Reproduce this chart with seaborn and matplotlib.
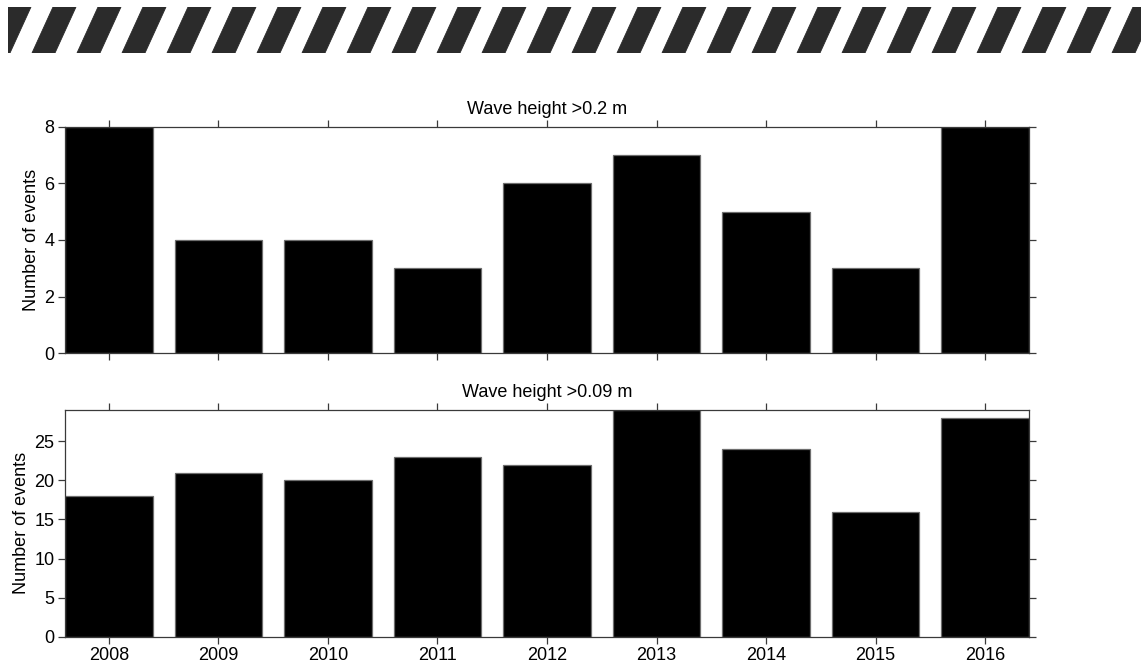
import matplotlib
matplotlib.use("Agg")
import matplotlib.pyplot as plt
from matplotlib.patches import Polygon
import seaborn as sns
import pandas as pd

years = ["2008", "2009", "2010", "2011", "2012", "2013", "2014", "2015", "2016"]
events_02 = [8, 4, 4, 3, 6, 7, 5, 3, 8]
events_009 = [18, 21, 20, 23, 22, 29, 24, 16, 28]
titles = ["Wave height >0.2 m", "Wave height >0.09 m"]
yticks_02 = [0, 2, 4, 6, 8]
yticks_009 = [0, 5, 10, 15, 20, 25]

sns.set_theme(style="white")
plt.rcParams["font.family"] = ["Liberation Sans", "DejaVu Sans"]
plt.rcParams["font.size"] = 13
plt.rcParams["text.color"] = "black"
plt.rcParams["axes.labelcolor"] = "black"

W, H = 1141, 666
fig = plt.figure(figsize=(W / 100, H / 100), dpi=100)

# decorative striped banner along the top edge
band = fig.add_axes([0, 1 - 53 / H, 1, 46 / H])
band.set_xlim(0, W)
band.set_ylim(46, 0)
band.axis("off")
period, stripe_w, slant = 45, 23, 21
x0 = 32 - period
while x0 < W + period:
    band.add_patch(Polygon([(x0, 46), (x0 + stripe_w, 46),
                            (x0 + stripe_w + slant, 0), (x0 + slant, 0)],
                           closed=True, facecolor="#2b2b2b", edgecolor="#2b2b2b",
                           linewidth=0.6, antialiased=True))
    x0 += period
band.add_patch(plt.Rectangle((0, -1), 8, 48, facecolor="white", edgecolor="none", zorder=5))

left = 65 / W
width = (1029 - 65) / W
ax_top = fig.add_axes([left, 1 - 353.3 / H, width, (353.3 - 126.7) / H])
ax_bot = fig.add_axes([left, 1 - 636.7 / H, width, (636.7 - 410) / H])

panels = [
    (ax_top, events_02, titles[0], yticks_02, 8),
    (ax_bot, events_009, titles[1], yticks_009, 29),
]
for ax, vals, title, yt, ymax in panels:
    df = pd.DataFrame({"year": years, "events": vals})
    sns.barplot(data=df, x="year", y="events", color="black", width=0.8,
                edgecolor="#6e6e6e", linewidth=0.9, saturation=1, ax=ax)
    ax.set_xlim(-0.4, len(years) - 0.6)
    ax.set_ylim(0, ymax)
    ax.set_yticks(yt)
    ax.set_xlabel("")
    ax.set_ylabel("Number of events", fontsize=13, labelpad=3)
    ax.set_title(title, fontsize=13, pad=9)
    for s in ax.spines.values():
        s.set_visible(True)
        s.set_color("#3a3a3a")
        s.set_linewidth(0.9)
    ax.tick_params(axis="both", direction="out", length=5, width=0.9,
                   color="#3a3a3a", top=True, right=True, bottom=True, left=True,
                   labelsize=13, pad=2.5, labelcolor="black")
    ax.set_facecolor("white")

ax_top.tick_params(labelbottom=False)

fig.savefig("out.png", dpi=100, facecolor="white")
